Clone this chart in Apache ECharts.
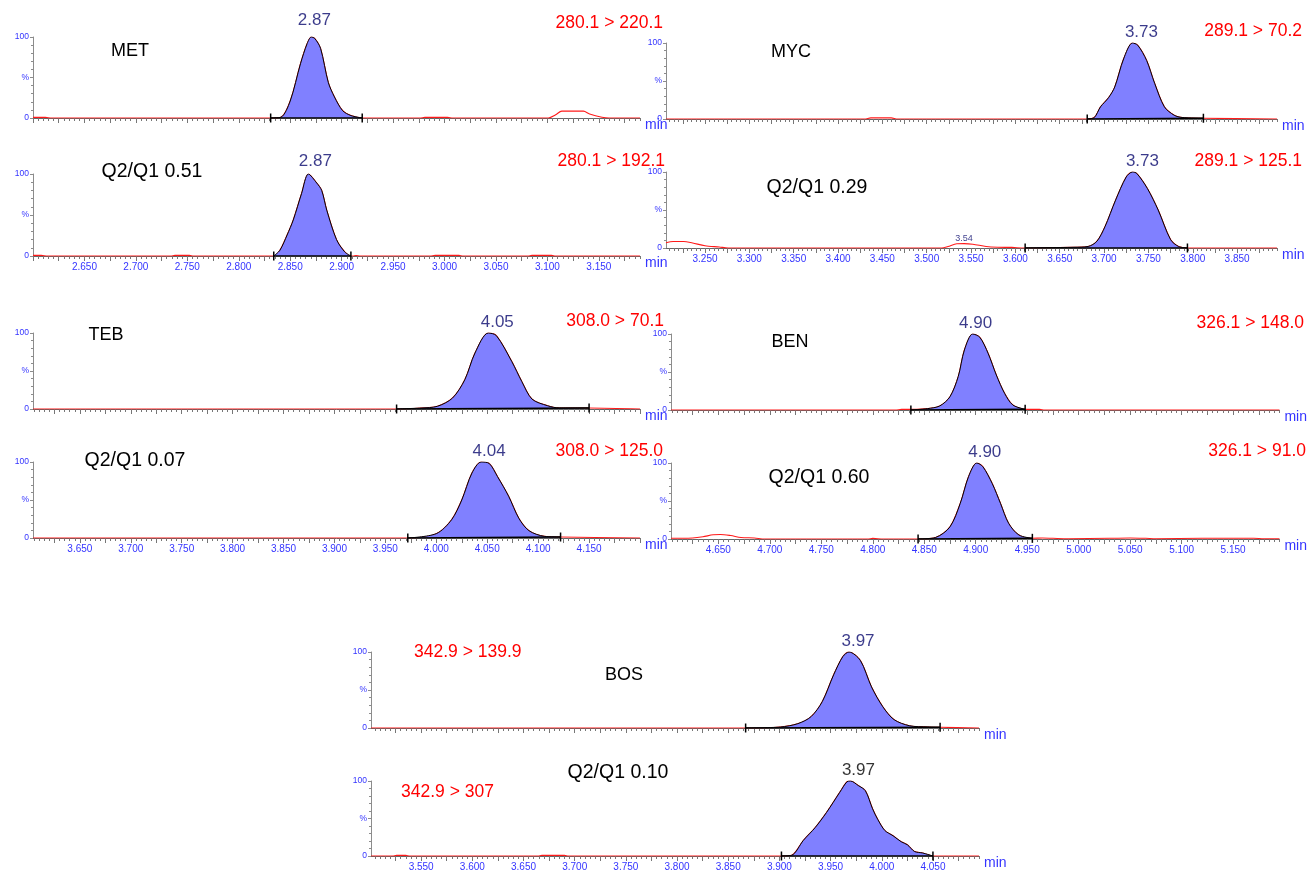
<!DOCTYPE html>
<html>
<head>
<meta charset="utf-8">
<script src="https://cdn.jsdelivr.net/npm/echarts@6/dist/echarts.min.js"></script>
<style>
  html, body { margin: 0; padding: 0; background: #ffffff; }
  #chart { width: 1308px; height: 872px; }
</style>
</head>
<body>
<div id="chart"></div>
<script>
// ---------------- chromatogram data (time in min, intensity in %) ----------------
const compoundLabels = ['MET', 'Q2/Q1 0.51', 'MYC', 'Q2/Q1 0.29', 'TEB', 'Q2/Q1 0.07',
                        'BEN', 'Q2/Q1 0.60', 'BOS', 'Q2/Q1 0.10'];
const transitions = ['280.1 > 220.1', '280.1 > 192.1', '289.1 > 70.2', '289.1 > 125.1',
                     '308.0 > 70.1', '308.0 > 125.0', '326.1 > 148.0', '326.1 > 91.0',
                     '342.9 > 139.9', '342.9 > 307'];

// time windows of each trace pair
const metRange = [2.600, 3.190];
const mycRange = [3.206, 3.895];
const tebRange = [3.604, 4.200];
const benRange = [4.604, 5.195];
const bosRange = [3.501, 4.095];

// labelled ticks on the lower trace of each pair
const metTicks = ['2.650', '2.700', '2.750', '2.800', '2.850', '2.900', '2.950', '3.000', '3.050', '3.100', '3.150'];
const mycTicks = ['3.250', '3.300', '3.350', '3.400', '3.450', '3.500', '3.550', '3.600', '3.650', '3.700', '3.750', '3.800', '3.850'];
const tebTicks = ['3.650', '3.700', '3.750', '3.800', '3.850', '3.900', '3.950', '4.000', '4.050', '4.100', '4.150'];
const benTicks = ['4.650', '4.700', '4.750', '4.800', '4.850', '4.900', '4.950', '5.000', '5.050', '5.100', '5.150'];
const bosTicks = ['3.550', '3.600', '3.650', '3.700', '3.750', '3.800', '3.850', '3.900', '3.950', '4.000', '4.050'];

// MET
const metQ1Trace = [[2.600, 0.8], [2.612, 0.8], [2.618, 0], [2.976, 0], [2.981, 0.8], [3.003, 0.8], [3.008, 0],
                    [3.101, 0], [3.108, 4], [3.114, 8.5], [3.135, 8.5], [3.141, 5], [3.153, 1], [3.160, 0], [3.190, 0]];
const metQ1Peak = [[2.831, 0], [2.841, 1], [2.850, 21], [2.860, 67], [2.8665, 92], [2.8705, 100], [2.874, 98],
                   [2.8795, 86], [2.887, 44], [2.893, 26], [2.901, 9], [2.909, 3], [2.920, 0]];
const metQ2Trace = [[2.600, 0.8], [2.608, 0.8], [2.614, 0], [2.734, 0], [2.738, 0.8], [2.752, 0.8], [2.756, 0],
                    [2.911, 0], [2.914, 0.6], [2.918, 0], [2.986, 0], [2.991, 0.8], [3.014, 0.8], [3.018, 0],
                    [3.081, 0], [3.085, 0.8], [3.104, 0.8], [3.108, 0], [3.190, 0]];
const metQ2Peak = [[2.834, 0], [2.840, 7], [2.847, 25.6], [2.853, 44], [2.861, 76], [2.8677, 100], [2.8758, 89],
                   [2.8806, 80], [2.8855, 56], [2.895, 20], [2.903, 5], [2.909, 0]];

// MYC
const mycQ1Trace = [[3.206, 0], [3.430, 0], [3.437, 1.5], [3.460, 1.5], [3.467, 0], [3.895, 0]];
const mycQ1Peak = [[3.681, 0], [3.689, 2], [3.696, 16], [3.705, 28], [3.712, 42], [3.722, 79], [3.732, 100],
                   [3.738, 97], [3.748, 77], [3.757, 47], [3.768, 16], [3.779, 5], [3.788, 2], [3.812, 1]];
const mycQ2Trace = [[3.206, 7], [3.214, 8.5], [3.226, 8.5], [3.236, 6.5], [3.250, 3], [3.266, 1.3], [3.276, 0],
                    [3.517, 0], [3.524, 2], [3.534, 5.5], [3.542, 5.8], [3.552, 5], [3.567, 2], [3.580, 1],
                    [3.596, 0.8], [3.610, 0], [3.895, 0]];
const mycQ2Minor = [3.542, 5.8];
const mycQ2Peak = [[3.611, 0], [3.666, 1], [3.682, 2], [3.692, 9], [3.701, 28], [3.713, 63], [3.725, 93.5],
                   [3.732, 100], [3.737, 98], [3.749, 78], [3.761, 50], [3.775, 11], [3.784, 2], [3.794, 0]];

// TEB
const tebQ1Trace = [[3.604, 0], [4.200, 0]];
const tebQ1Peak = [[3.961, 0], [3.985, 1.3], [4.001, 3.5], [4.016, 14.5], [4.028, 38.6], [4.038, 73.7],
                   [4.051, 100], [4.059, 96.5], [4.074, 62.7], [4.084, 36], [4.094, 13], [4.109, 4.4],
                   [4.121, 1.3], [4.150, 1.3]];
const tebQ2Trace = [[3.604, 0], [4.200, 0]];
const tebQ2Peak = [[3.972, 0], [4.000, 5.7], [4.015, 24], [4.025, 50], [4.035, 85.5], [4.044, 100],
                   [4.052, 98], [4.060, 81], [4.071, 55], [4.081, 26], [4.091, 9.6], [4.106, 2.2], [4.122, 1.3]];

// BEN
const benQ1Trace = [[4.604, 0], [4.822, 0], [4.828, 0.8], [4.837, 0.8], [4.950, 0.8], [4.962, 0.8],
                    [4.967, 0], [5.195, 0]];
const benQ1Peak = [[4.837, 0], [4.853, 1.8], [4.865, 5.3], [4.875, 17.5], [4.883, 44], [4.889, 79],
                   [4.897, 100], [4.904, 95.6], [4.912, 74.6], [4.920, 46], [4.928, 22], [4.936, 6.6], [4.948, 0.9]];
const benQ2Trace = [[4.604, 0.9], [4.615, 0.9], [4.625, 1.3], [4.635, 3], [4.645, 5.5], [4.652, 6],
                    [4.662, 4.5], [4.672, 2], [4.685, 1.3], [4.695, 0], [4.795, 0], [4.800, 0.8], [4.810, 0],
                    [4.955, 0.9], [4.965, 1.3], [4.975, 0.9], [4.990, 0.4], [5.030, 0.9], [5.050, 1.3],
                    [5.065, 0.9], [5.075, 0.4], [5.120, 0.9], [5.170, 0.9], [5.180, 0.4], [5.195, 0.4]];
const benQ2Peak = [[4.844, 0], [4.861, 2], [4.875, 16], [4.885, 47], [4.893, 82], [4.901, 100], [4.907, 95],
                   [4.916, 73], [4.924, 47], [4.932, 20.5], [4.942, 5.2], [4.955, 0.9]];

// BOS
const bosQ1Trace = [[3.501, 0], [4.095, 0]];
const bosQ1Peak = [[3.867, 0], [3.901, 1.3], [3.918, 5.7], [3.931, 15], [3.942, 35], [3.953, 70], [3.962, 94],
                   [3.968, 100], [3.979, 89], [3.990, 54], [4.001, 28], [4.012, 11], [4.027, 3], [4.045, 1.3],
                   [4.057, 0.9]];
const bosQ2Trace = [[3.501, 0], [3.522, 0], [3.526, 0.8], [3.535, 0.8], [3.539, 0], [3.664, 0], [3.668, 0.8],
                    [3.690, 0.8], [3.694, 0], [4.095, 0]];
const bosQ2Peak = [[3.902, 0], [3.912, 1], [3.9235, 21], [3.935, 38], [3.946, 58], [3.959, 85], [3.966, 99],
                   [3.9694, 100], [3.977, 94], [3.984, 87], [3.991, 63], [3.996, 49], [4.003, 34], [4.011, 27],
                   [4.019, 19], [4.025, 15], [4.032, 6], [4.040, 4], [4.050, 0]];

// ---------------- panel layout ----------------
const FONT = '"Liberation Sans", Arial, Helvetica, sans-serif';
const AXIS_BLUE = '#3434ff';
const RT_NAVY = '#0a0a6e';
const panels = [
  { range: metRange, ticks: metTicks, trace: metQ1Trace, peak: metQ1Peak, showLabels: false,
    grid: [33, 37, 607, 81], name: [130, 51, 'center', 18], trans: [663, 23, 'right'],
    rtGap: 8, rtShift: 3, rtColor: RT_NAVY },
  { range: metRange, ticks: metTicks, trace: metQ2Trace, peak: metQ2Peak, showLabels: true,
    grid: [33, 174, 607, 82], name: [152, 172, 'center', 19.5], trans: [665, 161, 'right'],
    rtGap: 4, rtShift: 7, rtColor: RT_NAVY },
  { range: mycRange, ticks: mycTicks, trace: mycQ1Trace, peak: mycQ1Peak, showLabels: false,
    grid: [666, 43, 611, 76], name: [791, 52, 'center', 18], trans: [1302, 31, 'right'],
    rtGap: 2, rtShift: 9, rtColor: RT_NAVY },
  { range: mycRange, ticks: mycTicks, trace: mycQ2Trace, peak: mycQ2Peak, showLabels: true, minor: mycQ2Minor,
    grid: [666, 172, 611, 76], name: [817, 188, 'center', 19.5], trans: [1302, 161, 'right'],
    rtGap: 2, rtShift: 10, rtColor: RT_NAVY },
  { range: tebRange, ticks: tebTicks, trace: tebQ1Trace, peak: tebQ1Peak, showLabels: false,
    grid: [33, 333, 607, 76], name: [106, 335, 'center', 18], trans: [664, 321, 'right'],
    rtGap: 2, rtShift: 9, rtColor: RT_NAVY },
  { range: tebRange, ticks: tebTicks, trace: tebQ2Trace, peak: tebQ2Peak, showLabels: true,
    grid: [33, 462, 607, 76], name: [135, 461, 'center', 19.5], trans: [663, 451, 'right'],
    rtGap: 2, rtShift: 8, rtColor: RT_NAVY },
  { range: benRange, ticks: benTicks, trace: benQ1Trace, peak: benQ1Peak, showLabels: false,
    grid: [671, 334, 610, 76], name: [790, 342, 'center', 18], trans: [1304, 323, 'right'],
    rtGap: 2, rtShift: 3, rtColor: RT_NAVY },
  { range: benRange, ticks: benTicks, trace: benQ2Trace, peak: benQ2Peak, showLabels: true,
    grid: [671, 463, 610, 76], name: [819, 478, 'center', 19.5], trans: [1306, 451, 'right'],
    rtGap: 2, rtShift: 8, rtColor: RT_NAVY },
  { range: bosRange, ticks: bosTicks, trace: bosQ1Trace, peak: bosQ1Peak, showLabels: false,
    grid: [371, 652, 608, 76], name: [624, 675, 'center', 18], trans: [414, 652, 'left'],
    rtGap: 2, rtShift: 9, rtColor: RT_NAVY },
  { range: bosRange, ticks: bosTicks, trace: bosQ2Trace, peak: bosQ2Peak, showLabels: true,
    grid: [371, 781, 608, 76], name: [618, 773, 'center', 19.5], trans: [401, 792, 'left'],
    rtGap: 2, rtShift: 8, rtColor: '#000000' }
];

// tick positions at a fixed number per minute inside a window (integer arithmetic avoids float drift)
function tickValues(range, perMin) {
  const out = [];
  for (let k = Math.ceil(range[0] * perMin - 1e-6); k <= Math.floor(range[1] * perMin + 1e-6); k++) out.push(k / perMin);
  return out;
}
function apexOf(peak) {
  return peak.reduce((best, p) => (p[1] > best[1] ? p : best), peak[0]);
}

const grids = [], xAxes = [], yAxes = [], series = [], graphics = [];

panels.forEach((p, i) => {
  const [left, top, width, height] = p.grid;
  grids.push({ left, top, width, height });

  // main time axis: baseline, fine ticks, labels, unit
  xAxes.push({
    gridIndex: i, type: 'value', position: 'bottom', min: p.range[0], max: p.range[1],
    axisLine: { show: true, onZero: false, lineStyle: { color: '#666666', width: 1 } },
    axisTick: { show: true, customValues: tickValues(p.range, 200), length: 3, lineStyle: { color: '#777777' } },
    axisLabel: {
      show: p.showLabels, customValues: p.ticks.map(Number), formatter: v => v.toFixed(3),
      fontFamily: FONT, fontSize: 10, color: AXIS_BLUE, margin: 6
    },
    splitLine: { show: false },
    name: 'min', nameLocation: 'end', nameGap: 5,
    nameTextStyle: { fontFamily: FONT, fontSize: 14, color: AXIS_BLUE, verticalAlign: 'top' }
  });
  // companion axis carrying the longer ticks every 0.025 min
  xAxes.push({
    gridIndex: i, type: 'value', position: 'bottom', offset: 0, min: p.range[0], max: p.range[1],
    axisLine: { show: false, onZero: false },
    axisTick: { show: true, customValues: tickValues(p.range, 40), length: 5, lineStyle: { color: '#777777' } },
    axisLabel: { show: false }, splitLine: { show: false }
  });

  yAxes.push({
    gridIndex: i, type: 'value', min: 0, max: 100, interval: 50,
    axisLine: { show: true, lineStyle: { color: '#8c8c8c', width: 1 } },
    axisTick: { show: true, length: 3, lineStyle: { color: '#8c8c8c' } },
    minorTick: { show: true, splitNumber: 5, length: 2, lineStyle: { color: '#8c8c8c' } },
    axisLabel: {
      fontFamily: FONT, fontSize: 8.5, color: AXIS_BLUE, margin: 4,
      formatter: v => (v === 100 ? '100' : v === 50 ? '%' : v === 0 ? '0' : '')
    },
    splitLine: { show: false }
  });

  const xIdx = i * 2;
  // full ion trace (red)
  series.push({
    type: 'line', xAxisIndex: xIdx, yAxisIndex: i, data: p.trace.concat(p.peak).sort((a, b) => a[0] - b[0]),
    showSymbol: false, symbol: 'none', smooth: 0.3, lineStyle: { color: '#ff1a1a', width: 1.1 }, z: 2,
    silent: true, animation: false
  });
  // integrated peak (filled, black outline)
  series.push({
    type: 'line', xAxisIndex: xIdx, yAxisIndex: i, data: p.peak, showSymbol: false, symbol: 'none', smooth: 0.3,
    lineStyle: { color: '#000000', width: 1 }, areaStyle: { color: '#8080ff', opacity: 1 },
    z: 3, silent: true, animation: false
  });
  // integration baseline with end markers
  const first = p.peak[0], last = p.peak[p.peak.length - 1];
  series.push({
    type: 'line', xAxisIndex: xIdx, yAxisIndex: i, data: [first, last],
    symbol: 'rect', symbolSize: [1.5, 9], showSymbol: true, showAllSymbol: true,
    itemStyle: { color: '#000000' }, lineStyle: { color: '#000000', width: 1.6 },
    z: 4, silent: true, animation: false
  });
  // retention time at the apex
  const apex = apexOf(p.peak);
  series.push({
    type: 'scatter', xAxisIndex: xIdx, yAxisIndex: i, data: [apex], symbolSize: 0, z: 5, silent: true,
    animation: false,
    label: {
      show: true, position: 'top', distance: p.rtGap, offset: [p.rtShift, 0],
      formatter: d => d.value[0].toFixed(2), fontFamily: FONT, fontSize: 17, color: p.rtColor,
      textBorderWidth: 0
    }
  });
  if (p.minor) {
    series.push({
      type: 'scatter', xAxisIndex: xIdx, yAxisIndex: i, data: [p.minor], symbolSize: 0, z: 5, silent: true,
      animation: false,
      label: {
        show: true, position: 'top', distance: 1, formatter: d => d.value[0].toFixed(2),
        fontFamily: FONT, fontSize: 9, color: RT_NAVY, textBorderWidth: 0
      }
    });
  }

  graphics.push({
    type: 'text', x: p.name[0], y: p.name[1], silent: true,
    style: { text: compoundLabels[i], fill: '#000000', font: p.name[3] + 'px ' + FONT, textAlign: p.name[2], textVerticalAlign: 'middle' }
  });
  graphics.push({
    type: 'text', x: p.trans[0], y: p.trans[1], silent: true,
    style: { text: transitions[i], fill: '#ff0000', font: '17.5px ' + FONT, textAlign: p.trans[2], textVerticalAlign: 'middle' }
  });
});

const chart = echarts.init(document.getElementById('chart'), null, { renderer: 'canvas' });
chart.setOption({
  animation: false,
  backgroundColor: '#ffffff',
  grid: grids,
  xAxis: xAxes,
  yAxis: yAxes,
  series: series,
  graphic: graphics
});
</script>
</body>
</html>
